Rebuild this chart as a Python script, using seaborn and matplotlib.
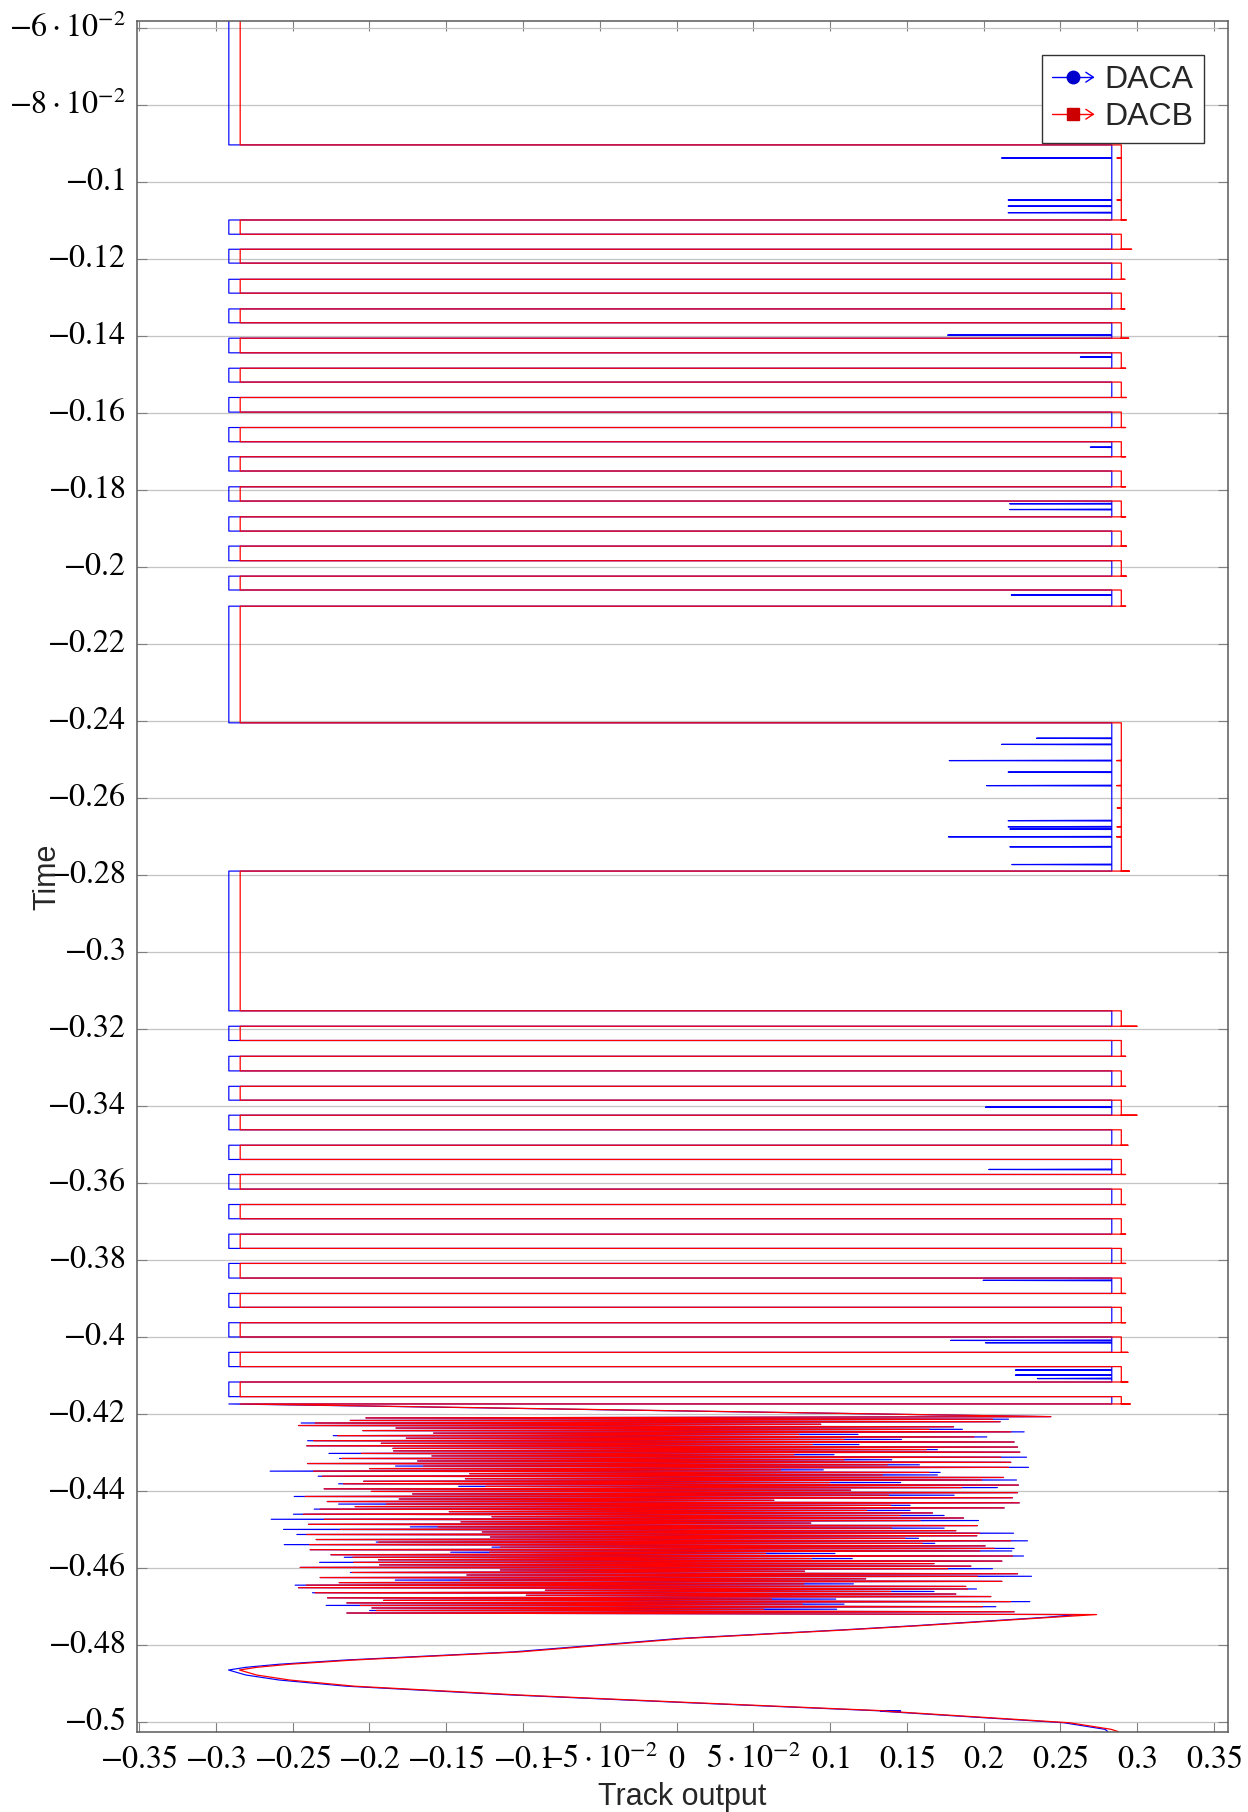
import numpy as np
import pandas as pd
import matplotlib
matplotlib.use("Agg")
import matplotlib.pyplot as plt
import seaborn as sns
from matplotlib.lines import Line2D
from matplotlib.legend_handler import HandlerBase

# ---------------- data ----------------
series_names = ["DACA", "DACB"]
t_top = -0.0581

# times at which the track output switches side (top to bottom)
switch_times = [-0.0903,
                -0.1098, -0.1135, -0.1174, -0.1210, -0.1252, -0.1288, -0.1329, -0.1365,
                -0.1405, -0.1443, -0.1483, -0.1519, -0.1559, -0.1597, -0.1637, -0.1674,
                -0.1713, -0.1750, -0.1791, -0.1828, -0.1869, -0.1906, -0.1945, -0.1983,
                -0.2023, -0.2059, -0.2101,
                -0.2404, -0.2789, -0.3152,
                -0.3192, -0.3229, -0.3270, -0.3308, -0.3348, -0.3384, -0.3423, -0.3461,
                -0.3501, -0.3538, -0.3577, -0.3615, -0.3655, -0.3692, -0.3732, -0.3769,
                -0.3808, -0.3846, -0.3886, -0.3922, -0.3962, -0.3999, -0.4039, -0.4076,
                -0.4116, -0.4154, -0.4173]

daca_left, daca_right = -0.2916, 0.2835
dacb_left, dacb_right = -0.2842, 0.2897

# DACB overshoot at the bottom of each high segment
dacb_overshoot = [0.2929, 0.2964, 0.2920, 0.2920, 0.2945, 0.2925, 0.2930, 0.2925, 0.2925,
                  0.2925, 0.2925, 0.2930, 0.2930, 0.2925, 0.2949, 0.2999, 0.2925, 0.2925,
                  0.2999, 0.2940, 0.2925, 0.2925, 0.2925, 0.2925, 0.2925, 0.2925, 0.2940,
                  0.2940, 0.2955]

# short dips while high
daca_glitch_t = [-0.0937, -0.1046, -0.1062, -0.1079, -0.1397, -0.1454, -0.1688, -0.1835,
                 -0.1850, -0.2072, -0.2444, -0.2460, -0.2502, -0.2532, -0.2567, -0.2658,
                 -0.2674, -0.2680, -0.2700, -0.2726, -0.2772, -0.3402, -0.3564, -0.3852,
                 -0.4008, -0.4014, -0.4085, -0.4098, -0.4107]
daca_glitch_x = [0.2117, 0.2160, 0.2160, 0.2160, 0.1766, 0.2630, 0.2695, 0.2170,
                 0.2170, 0.2180, 0.2345, 0.2117, 0.1776, 0.2160, 0.2019, 0.2160,
                 0.2160, 0.2171, 0.1771, 0.2171, 0.2184, 0.2012, 0.2034, 0.1997,
                 0.1786, 0.2012, 0.2207, 0.2207, 0.2350]
dacb_glitch_t = [-0.0937, -0.1046, -0.2502, -0.2567, -0.2625, -0.2674, -0.2700]
dacb_glitch_x = [0.2868, 0.2868, 0.2866, 0.2866, 0.2870, 0.2868, 0.2866]

# noisy section: alternating high / low extremes
noise_t_start, noise_t_end = -0.4206, -0.4716
dacb_noise_high = [0.2438, 0.2058, 0.2108, 0.0939, 0.1804, 0.1645, 0.2177, 0.0797, 0.1938, 0.1091,
                   0.2199, 0.0884, 0.2221, 0.1628, 0.2236, 0.0765, 0.2112, 0.1091, 0.2177, 0.1373,
                   0.2162, 0.0678, 0.1645, 0.1341, 0.2130, 0.1988, 0.0997, 0.2227, 0.1858, 0.1134,
                   0.2221, 0.1380, 0.2188, 0.0634, 0.2232, 0.1395, 0.2134, 0.1239, 0.1667, 0.1456,
                   0.1869, 0.1586, 0.0874, 0.1960, 0.1402, 0.1819, 0.1975, 0.1956, 0.1486, 0.2177,
                   0.1601, 0.2010, 0.2069, 0.1975, 0.0580, 0.2188, 0.0880, 0.2119, 0.1677, 0.1917,
                   0.1765, 0.0834, 0.2221, 0.1960, 0.1232, 0.2119, 0.0830, 0.1884, 0.1895, 0.1395,
                   0.1819, 0.2047, 0.0619, 0.2177, 0.0819, 0.1993, 0.0569, 0.2199]
dacb_noise_low = [-0.2023, -0.2125, -0.2353, -0.2462, -0.1827, -0.2043, -0.1582, -0.2208, -0.1760, -0.2364,
                  -0.1923, -0.2408, -0.1847, -0.1843, -0.2053, -0.1593, -0.2180, -0.1686, -0.2403, -0.1647,
                  -0.1999, -0.2364, -0.1347, -0.2306, -0.1375, -0.2038, -0.2169, -0.1243, -0.2295, -0.1988,
                  -0.1719, -0.2419, -0.1806, -0.2275, -0.1890, -0.2093, -0.2321, -0.1480, -0.2430, -0.1202,
                  -0.2295, -0.1404, -0.2397, -0.1554, -0.2190, -0.1265, -0.2408, -0.1212, -0.2347, -0.1941,
                  -0.2390, -0.1147, -0.2386, -0.1217, -0.2251, -0.2108, -0.1941, -0.2103, -0.1934, -0.2451,
                  -0.1147, -0.2114, -0.1365, -0.2321, -0.1408, -0.2197, -0.2412, -0.2462, -0.0854, -0.2353,
                  -0.0978, -0.2273, -0.1908, -0.2147, -0.2060, -0.1984, -0.1956, -0.2147]
daca_noise_high = [0.2438, 0.2162, 0.2108, 0.0939, 0.1804, 0.1862, 0.2264, 0.1182, 0.2021, 0.1465,
                   0.2199, 0.1189, 0.2221, 0.1699, 0.2236, 0.1026, 0.2280, 0.1402, 0.2177, 0.1582,
                   0.2293, 0.0956, 0.1717, 0.1699, 0.2130, 0.2214, 0.1460, 0.2227, 0.2090, 0.1134,
                   0.2221, 0.1808, 0.2188, 0.0634, 0.2232, 0.1521, 0.2134, 0.1521, 0.1667, 0.1743,
                   0.1869, 0.1967, 0.0874, 0.1960, 0.1743, 0.1819, 0.2195, 0.1956, 0.1576, 0.2286,
                   0.1682, 0.2010, 0.2199, 0.2184, 0.1032, 0.2260, 0.1145, 0.2119, 0.1677, 0.1917,
                   0.2058, 0.0834, 0.2221, 0.2312, 0.1232, 0.2119, 0.1152, 0.1884, 0.1954, 0.1677,
                   0.1819, 0.2047, 0.1037, 0.2301, 0.1091, 0.2080, 0.1043, 0.2199]
daca_noise_low = [-0.2023, -0.2125, -0.2445, -0.2462, -0.1827, -0.2043, -0.1582, -0.2236, -0.1760, -0.2403,
                  -0.1923, -0.2408, -0.1847, -0.1843, -0.2264, -0.1593, -0.2195, -0.1686, -0.2403, -0.1830,
                  -0.1999, -0.2647, -0.1347, -0.2334, -0.1375, -0.2038, -0.2201, -0.1419, -0.2295, -0.1988,
                  -0.1719, -0.2490, -0.1806, -0.2275, -0.2201, -0.2093, -0.2360, -0.1480, -0.2495, -0.1202,
                  -0.2640, -0.1404, -0.2397, -0.1734, -0.2560, -0.1265, -0.2473, -0.1212, -0.2347, -0.1956,
                  -0.2555, -0.1202, -0.2386, -0.1471, -0.2251, -0.2164, -0.1941, -0.2325, -0.1934, -0.2451,
                  -0.1147, -0.2125, -0.1365, -0.2321, -0.1832, -0.2197, -0.2484, -0.2462, -0.0854, -0.2371,
                  -0.0978, -0.2273, -0.1908, -0.2147, -0.2282, -0.1984, -0.1999, -0.2147]

# final swing
tail_t = [-0.4720, -0.4727, -0.4749, -0.4760, -0.4782, -0.4817, -0.4838, -0.4849, -0.4857, -0.4864,
          -0.4877, -0.4890, -0.4906, -0.4929, -0.4948, -0.4970, -0.49705, -0.4971, -0.5001, -0.5018, -0.5024]
daca_tail_x = [0.2620, 0.2410, 0.1547, 0.1069, 0.0020, -0.1067, -0.2153, -0.2588, -0.2805, -0.2918,
               -0.2805, -0.2588, -0.2153, -0.1067, 0.0020, 0.1323, 0.1460, 0.1330, 0.2523, 0.2790, 0.2810]
dacb_tail_x = [0.2736, 0.2450, 0.1580, 0.1100, 0.0060, -0.1020, -0.2100, -0.2520, -0.2735, -0.2847,
               -0.2735, -0.2520, -0.2100, -0.1020, 0.0060, 0.1360, 0.1362, 0.1365, 0.2560, 0.2830, 0.2877]

x_ticks = [-0.35, -0.30, -0.25, -0.20, -0.15, -0.10, -0.05, 0.0, 0.05, 0.10, 0.15, 0.20, 0.25, 0.30, 0.35]
x_tick_labels = [r"$-0.35$", r"$-0.3$", r"$-0.25$", r"$-0.2$", r"$-0.15$", r"$-0.1$",
                 r"$-5\cdot10^{-2}$", r"$0$", r"$5\cdot10^{-2}$", r"$0.1$", r"$0.15$",
                 r"$0.2$", r"$0.25$", r"$0.3$", r"$0.35$"]
y_ticks = [-0.50, -0.48, -0.46, -0.44, -0.42, -0.40, -0.38, -0.36, -0.34, -0.32, -0.30, -0.28,
           -0.26, -0.24, -0.22, -0.20, -0.18, -0.16, -0.14, -0.12, -0.10, -0.08, -0.06]
y_tick_labels = [r"$-0.5$", r"$-0.48$", r"$-0.46$", r"$-0.44$", r"$-0.42$", r"$-0.4$", r"$-0.38$",
                 r"$-0.36$", r"$-0.34$", r"$-0.32$", r"$-0.3$", r"$-0.28$", r"$-0.26$", r"$-0.24$",
                 r"$-0.22$", r"$-0.2$", r"$-0.18$", r"$-0.16$", r"$-0.14$", r"$-0.12$", r"$-0.1$",
                 r"$-8\cdot10^{-2}$", r"$-6\cdot10^{-2}$"]


# ---------------- build the polylines ----------------
def build_series(left, right, overshoot, glitch_t, glitch_x, noise_high, noise_low, tail_x):
    ts, xs = [t_top], [left]
    side, k, prev = "L", 0, t_top
    glitches = sorted(zip(glitch_t, glitch_x), reverse=True)
    for s in switch_times:
        if side == "L":
            ts += [s, s]
            xs += [left, right]
            side = "R"
        else:
            for gt, gx in glitches:
                if s < gt < prev:
                    ts += [gt + 0.0001, gt, gt - 0.0001]
                    xs += [right, gx, right]
            ov = right if overshoot is None else overshoot[k]
            ts += [s, s, s]
            xs += [right, ov, left]
            k += 1
            side = "L"
        prev = s
    noise_x = []
    for hi, lo in zip(noise_high, noise_low):
        noise_x += [hi, lo]
    noise_t = np.linspace(noise_t_start, noise_t_end, len(noise_x))
    ts += list(noise_t)
    xs += noise_x
    ts += tail_t
    xs += tail_x
    return pd.DataFrame({"time": ts, "output": xs})


df_a = build_series(daca_left, daca_right, None, daca_glitch_t, daca_glitch_x,
                    daca_noise_high, daca_noise_low, daca_tail_x)
df_b = build_series(dacb_left, dacb_right, dacb_overshoot, dacb_glitch_t, dacb_glitch_x,
                    dacb_noise_high, dacb_noise_low, dacb_tail_x)
df_a["series"] = series_names[0]
df_b["series"] = series_names[1]

# ---------------- plotting ----------------
sns.set_theme(style="white")
plt.rcParams["font.family"] = ["Liberation Sans", "DejaVu Sans"]
plt.rcParams["mathtext.fontset"] = "stix"

fig = plt.figure(figsize=(12.48, 18.12), dpi=100)
ax = fig.add_axes([0.10954, 0.04415, 0.8742, 0.9443])

colors = {"DACA": "#0000ff", "DACB": "#ff0000"}
sns.lineplot(data=df_a, x="output", y="time", sort=False, estimator=None,
             color=colors["DACA"], linewidth=0.85, ax=ax, legend=False)
sns.lineplot(data=df_b, x="output", y="time", sort=False, estimator=None,
             color=colors["DACB"], linewidth=0.9, ax=ax, legend=False)

ax.set_xlim(-0.3516, 0.3590)
ax.set_ylim(-0.5025, -0.0581)

ax.set_xticks(x_ticks)
ax.set_xticklabels(x_tick_labels, fontsize=23)
ax.set_yticks(y_ticks)
ax.set_yticklabels(y_tick_labels, fontsize=23)
for lbl in ax.get_xticklabels():
    lbl.set_va("baseline")
for lbl in ax.get_yticklabels():
    lbl.set_va("center")

ax.tick_params(axis="both", direction="in", length=7, width=0.8, color="#808080",
               top=True, right=True, bottom=True, left=True, labelcolor="black")
ax.tick_params(axis="x", pad=26)
ax.tick_params(axis="y", pad=8)

ax.grid(axis="y", color="#c4c4c4", linewidth=0.9)
ax.grid(axis="x", visible=False)
ax.set_axisbelow(True)
for sp in ax.spines.values():
    sp.set_color("#5a5a5a")
    sp.set_linewidth(1.1)

ax.set_xlabel("Track output", fontsize=22, family=["Liberation Sans", "DejaVu Sans"])
ax.set_ylabel("Time", fontsize=22, family=["Liberation Sans", "DejaVu Sans"])
ax.xaxis.set_label_coords(0.5, -0.0292)
ax.yaxis.set_label_coords(-0.0685, 0.5)


class ArrowMarkerHandler(HandlerBase):
    def __init__(self, marker, mcolor, ms):
        super().__init__()
        self.marker = marker
        self.mcolor = mcolor
        self.ms = ms

    def create_artists(self, legend, orig_handle, xdescent, ydescent, width, height,
                       fontsize, trans):
        col = orig_handle.get_color()
        x0, x1 = -xdescent, -xdescent + width
        yc = (height - ydescent) / 2.0
        line = Line2D([x0, x1], [yc, yc], color=col, lw=1.0)
        xm = x0 + 0.5 * width
        mark = Line2D([xm], [yc], marker=self.marker, markersize=self.ms,
                      markerfacecolor=self.mcolor, markeredgecolor=self.mcolor, linestyle="none")
        a = 0.18 * width
        b = 0.22 * height
        arrow = Line2D([x1 - a, x1, x1 - a], [yc + b, yc, yc - b], color=col, lw=1.0)
        for art in (line, mark, arrow):
            art.set_transform(trans)
        return [line, mark, arrow]


h_a = Line2D([], [], color=colors["DACA"], label="DACA")
h_b = Line2D([], [], color=colors["DACB"], label="DACB")
leg = ax.legend(handles=[h_a, h_b], loc="upper right", bbox_to_anchor=(0.978, 0.980),
                borderaxespad=0.0, frameon=True, fancybox=False, framealpha=1.0,
                edgecolor="#333333", prop={"family": ["Liberation Sans", "DejaVu Sans"], "size": 23},
                handlelength=1.3, handletextpad=0.35, labelspacing=0.22, borderpad=0.32,
                handler_map={h_a: ArrowMarkerHandler("o", "#0000cc", 9),
                             h_b: ArrowMarkerHandler("s", "#cc0000", 8)})
leg.get_frame().set_linewidth(1.0)

fig.savefig("out.png", dpi=100)
